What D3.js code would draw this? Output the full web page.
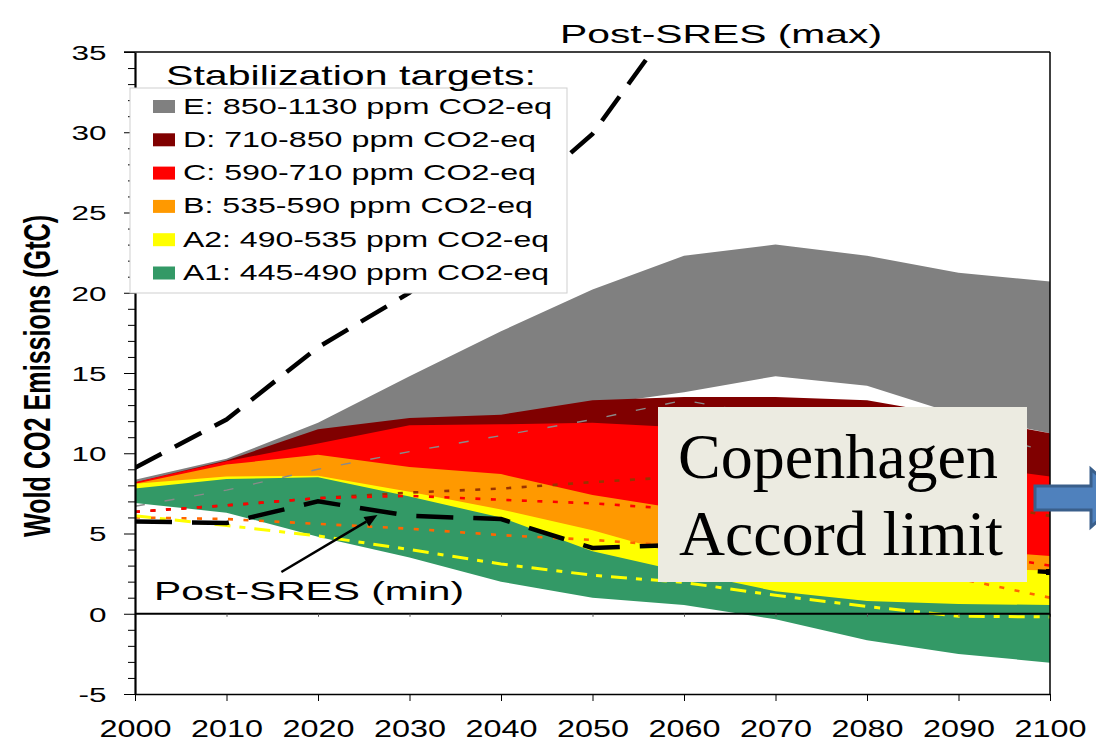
<!DOCTYPE html>
<html>
<head>
<meta charset="utf-8">
<script src="https://cdn.jsdelivr.net/npm/d3@7"></script>
<style>
  html, body { margin: 0; padding: 0; background: #fff; }
  svg { display: block; }
</style>
</head>
<body>
<svg id="chart" width="1096" height="750"></svg>
<script>
// ---- data -------------------------------------------------------------
const years = [2000, 2010, 2020, 2030, 2040, 2050, 2060, 2070, 2080, 2090, 2100];

// Stabilization category ranges (GtC): lower and upper edge of each band
const bandE_hi  = [8.35, 9.65, 11.9, 14.8, 17.6, 20.2, 22.3, 23.0, 22.3, 21.25, 20.7];
const bandE_lo  = [8.2, 9.5, 11.2, 12.0, 12.3, 13.0, 13.8, 14.8, 14.2, 12.4, 11.25];
const bandD_hi  = [8.2, 9.55, 11.5, 12.2, 12.4, 13.3, 13.5, 13.5, 13.3, 12.3, 11.25];
const bandD_lo  = [8.0, 9.2, 9.8, 9.1, 8.6, 7.4, 6.4, 5.2, 4.4, 3.9, 3.5];
const bandC_hi  = [8.2, 9.5, 10.6, 11.75, 11.8, 11.9, 11.6, 11.0, 10.2, 9.3, 8.55];
const bandC_lo  = [7.9, 8.5, 8.6, 7.5, 6.4, 5.1, 3.5, 3.2, 2.9, 2.7, 2.6];
const bandB_hi  = [8.1, 9.3, 9.9, 9.15, 8.7, 7.4, 6.5, 5.4, 4.6, 4.0, 3.6];
const bandB_lo  = [7.7, 8.3, 8.4, 7.2, 5.9, 3.8, 2.5, 1.4, 0.8, 0.6, 0.5];
const bandA2_hi = [8.1, 8.55, 8.6, 7.6, 6.5, 5.2, 3.6, 3.2, 2.9, 2.8, 2.7];
const bandA2_lo = [7.0, 6.5, 5.2, 4.0, 2.8, 1.8, 1.2, 0.6, 0.2, 0.0, -0.2];
const bandA1_hi = [7.8, 8.4, 8.5, 7.3, 6.0, 3.9, 2.6, 1.4, 0.8, 0.6, 0.55];
const bandA1_lo = [6.9, 6.3, 4.8, 3.5, 2.0, 1.0, 0.55, -0.35, -1.65, -2.5, -3.05];

// Scenario paths
const postSresMax   = [9.1, 12.1, 16.6, 20.0, 24.9, 29.9, 37.8];          // 2000-2060
const postSresMin   = [5.75, 5.65, 7.0, 6.1, 5.9, 4.1, 4.3, 3.8, 3.3, 2.9, 2.6];
const greyPath      = [6.7, 7.7, 9.0, 10.1, 11.1, 12.1, 13.3, 12.3, 12.0, 11.5, 10.1];
const brownPath     = [6.35, 6.75, 7.2, 7.55, 7.8, 8.2, 8.55, 8.4, 7.9, 7.1, 6.1];
const redPath       = [6.35, 6.75, 7.2, 7.35, 7.1, 6.88, 6.5, 5.6, 4.7, 3.9, 3.0];
const orangePath    = [6.0, 5.9, 5.6, 5.3, 4.9, 4.6, 4.2, 3.6, 2.9, 2.2, 1.0];
const yellowPath    = [6.1, 5.5, 4.85, 4.0, 3.1, 2.4, 1.95, 1.15, 0.45, -0.15, -0.2];

// Axis ticks and legend labels
const xTicks = [2000, 2010, 2020, 2030, 2040, 2050, 2060, 2070, 2080, 2090, 2100];
const yTicks = [-5, 0, 5, 10, 15, 20, 25, 30, 35];
const yMinorTicks = d3.range(-5, 36, 1).filter(v => v % 5 !== 0);
const bandKeys = ["E", "D", "C", "B", "A2", "A1"];
const legendLabels = [
  "E: 850-1130 ppm CO2-eq",
  "D: 710-850 ppm CO2-eq",
  "C: 590-710 ppm CO2-eq",
  "B: 535-590 ppm CO2-eq",
  "A2: 490-535 ppm CO2-eq",
  "A1: 445-490 ppm CO2-eq"
];

// ---- styles -------------------------------------------------------------
const bandFill = { E: "#808080", D: "#800000", C: "#ff0000", B: "#ff9900", A2: "#ffff00", A1: "#339966" };
const SANS = "'Liberation Sans', Arial, Helvetica, sans-serif";
const SERIF = "'Liberation Serif', 'Times New Roman', Times, serif";

// ---- layout -------------------------------------------------------------
const svg = d3.select("#chart");
const X0 = 135, X1 = 1050, Y0 = 52, Y1 = 694;
const x = d3.scaleLinear().domain([2000, 2100]).range([X0, X1]);
const y = d3.scaleLinear().domain([-5, 35]).range([Y1, Y0]);

svg.append("rect").attr("width", 1096).attr("height", 750).attr("fill", "#fff");

svg.append("clipPath").attr("id", "plotClip")
  .append("rect").attr("x", X0).attr("y", Y0).attr("width", X1 - X0).attr("height", Y1 - Y0);

const plot = svg.append("g").attr("clip-path", "url(#plotClip)");

// ---- bands (widest first, narrower targets on top) --------------------
const bands = [
  { key: "E", lo: bandE_lo, hi: bandE_hi },
  { key: "D", lo: bandD_lo, hi: bandD_hi },
  { key: "C", lo: bandC_lo, hi: bandC_hi },
  { key: "B", lo: bandB_lo, hi: bandB_hi },
  { key: "A2", lo: bandA2_lo, hi: bandA2_hi },
  { key: "A1", lo: bandA1_lo, hi: bandA1_hi }
];
const bandArea = b => d3.area()
  .x((d, i) => x(years[i]))
  .y0((d, i) => y(b.lo[i]))
  .y1((d, i) => y(b.hi[i]))(years);

plot.append("g").selectAll("path").data(bands).join("path")
  .attr("d", bandArea)
  .attr("fill", b => bandFill[b.key])
  .attr("stroke", "none");

// ---- scenario lines ------------------------------------------------------
const pathLine = vals => d3.line()
  .x((d, i) => x(years[i]))
  .y(d => y(d))(vals);

const lineSpecs = [
  { vals: greyPath,    color: "#8a8a8a", width: 1.4, dash: "10,20" },
  { vals: brownPath,   color: "#993300", width: 2.6, dash: "5,10.5" },
  { vals: redPath,     color: "#ff0000", width: 2.6, dash: "5,10.5" },
  { vals: orangePath,  color: "#ff6600", width: 2.6, dash: "5,10.5" },
  { vals: yellowPath,  color: "#ffff00", width: 3,   dash: "16,9,6,9" },
  { vals: postSresMin, color: "#000000", width: 4.5, dash: "37,20" },
  { vals: postSresMax, color: "#000000", width: 4.5, dash: "30,15" }
];
plot.append("g").selectAll("path").data(lineSpecs).join("path")
  .attr("d", s => pathLine(s.vals))
  .attr("fill", "none")
  .attr("stroke", s => s.color)
  .attr("stroke-width", s => s.width)
  .attr("stroke-dasharray", s => s.dash)
  .attr("stroke-linejoin", "miter");

// end marker of the lower scenario at 2100
plot.append("rect")
  .attr("x", x(2100) - 4).attr("y", y(postSresMin[10]) - 3)
  .attr("width", 4).attr("height", 6).attr("fill", "#000");

// ---- zero line -----------------------------------------------------------
svg.append("line")
  .attr("x1", X0).attr("x2", X1).attr("y1", y(0)).attr("y2", y(0))
  .attr("stroke", "#000").attr("stroke-width", 2);
svg.append("g")
  .attr("transform", `translate(0,${y(0)})`)
  .call(d3.axisBottom(x).tickValues(xTicks).tickSize(3).tickFormat(""))
  .call(g => g.select(".domain").remove())
  .call(g => g.selectAll("line").attr("stroke", "#555"));

// ---- frame -----------------------------------------------------------------
svg.append("line").attr("x1", 124).attr("x2", X1).attr("y1", Y0).attr("y2", Y0)
  .attr("stroke", "#000").attr("stroke-width", 1.5);
svg.append("line").attr("x1", X1).attr("x2", X1).attr("y1", Y0).attr("y2", Y1)
  .attr("stroke", "#000").attr("stroke-width", 1.5);

// ---- axes ------------------------------------------------------------------
const yLabelWidth = v => (String(v).length === 1 ? 17.5 : (v < 0 ? 28 : 35));

const yAxis = svg.append("g").attr("transform", `translate(${X0},0)`)
  .call(d3.axisLeft(y).tickValues(yTicks).tickSize(11).tickSizeOuter(0).tickFormat(d => String(d)));
yAxis.select(".domain").attr("stroke", "#000").attr("stroke-width", 2.2);
yAxis.selectAll(".tick line").attr("stroke", "#000").attr("stroke-width", 1);
yAxis.selectAll(".tick text")
  .attr("text-anchor", "start")
  .attr("x", d => -28.5 - yLabelWidth(d))
  .attr("dy", "0")
  .attr("y", 7.3)
  .attr("font-family", SANS)
  .attr("font-size", 20)
  .attr("fill", "#000")
  .attr("textLength", d => yLabelWidth(d))
  .attr("lengthAdjust", "spacingAndGlyphs");

svg.append("g").attr("transform", `translate(${X0},0)`)
  .call(d3.axisLeft(y).tickValues(yMinorTicks).tickSize(7).tickSizeOuter(0).tickFormat(""))
  .call(g => g.select(".domain").remove())
  .call(g => g.selectAll("line").attr("stroke", "#000"));

const xAxis = svg.append("g").attr("transform", `translate(0,${Y1})`)
  .call(d3.axisBottom(x).tickValues(xTicks).tickSize(7).tickSizeOuter(0).tickFormat(d => String(d)));
xAxis.select(".domain").attr("stroke", "#000").attr("stroke-width", 1.5);
xAxis.selectAll(".tick line").attr("stroke", "#000");
xAxis.selectAll(".tick text")
  .attr("text-anchor", "start")
  .attr("x", -36)
  .attr("y", 43)
  .attr("dy", "0")
  .attr("font-family", SANS)
  .attr("font-size", 23.5)
  .attr("fill", "#000")
  .attr("textLength", 72)
  .attr("lengthAdjust", "spacingAndGlyphs");

// y-axis title
svg.append("text")
  .attr("transform", "translate(50,376) scale(1.47,1) rotate(-90)")
  .attr("text-anchor", "middle")
  .attr("font-family", SANS)
  .attr("font-size", 25)
  .attr("font-weight", "bold")
  .attr("fill", "#000")
  .attr("textLength", 322)
  .attr("lengthAdjust", "spacingAndGlyphs")
  .text("Wold CO2 Emissions (GtC)");

// ---- legend -----------------------------------------------------------------
const label = (sel, txt, lx, ly, size, width, opts = {}) =>
  sel.append("text")
    .attr("x", lx).attr("y", ly)
    .attr("font-family", opts.family || SANS)
    .attr("font-size", size)
    .attr("font-weight", opts.weight || "normal")
    .attr("fill", opts.fill || "#000")
    .attr("textLength", width)
    .attr("lengthAdjust", "spacingAndGlyphs")
    .text(txt);

const legend = svg.append("g");
legend.append("rect")
  .attr("x", 130).attr("y", 88).attr("width", 437).attr("height", 205)
  .attr("fill", "#fff").attr("stroke", "#cfcfcf").attr("stroke-width", 1);
label(legend, "Stabilization targets:", 166, 85, 28, 370);

const legendWidths = [369, 353, 353, 350, 366, 366];
const rows = legend.selectAll("g.row").data(bandKeys).join("g")
  .attr("class", "row")
  .attr("transform", (d, i) => `translate(0,${106.5 + i * 33.3})`);
rows.append("rect")
  .attr("x", 153).attr("y", -6.5).attr("width", 22).attr("height", 13)
  .attr("fill", d => bandFill[d]);
rows.each(function (d, i) {
  label(d3.select(this), legendLabels[i], 183, 7, 22, legendWidths[i]);
});

// ---- annotations ---------------------------------------------------------------
label(svg, "Post-SRES (max)", 560, 43, 25, 322);
label(svg, "Post-SRES (min)", 154, 600, 25, 310);

// pointer to the lower scenario path
const tail = [x(2016.0), y(2.6)];
const tip = [x(2026.5), y(6.15)];
const ang = Math.atan2(tip[1] - tail[1], tip[0] - tail[0]);
const headLen = 13, headHalf = 5.5;
const base = [tip[0] - headLen * Math.cos(ang), tip[1] - headLen * Math.sin(ang)];
svg.append("line")
  .attr("x1", tail[0]).attr("y1", tail[1]).attr("x2", base[0]).attr("y2", base[1])
  .attr("stroke", "#000").attr("stroke-width", 2.5);
svg.append("polygon")
  .attr("points", [
    tip,
    [base[0] + headHalf * Math.sin(ang), base[1] - headHalf * Math.cos(ang)],
    [base[0] - headHalf * Math.sin(ang), base[1] + headHalf * Math.cos(ang)]
  ].map(p => p.join(",")).join(" "))
  .attr("fill", "#000");

// Copenhagen Accord call-out
const callout = svg.append("g");
callout.append("rect")
  .attr("x", 658).attr("y", 407).attr("width", 369).attr("height", 175)
  .attr("fill", "#ecebe1");
label(callout, "Copenhagen", 678, 478, 64, 320, { family: SERIF });
label(callout, "Accord limit", 679, 555, 64, 324, { family: SERIF });

// block arrow pointing off to the right
svg.append("polygon")
  .attr("points", "1035,486 1091,486 1091,469 1124,498 1091,527 1091,510 1035,510")
  .attr("fill", "#4f81bd")
  .attr("stroke", "#3a5f8b")
  .attr("stroke-width", 3)
  .attr("stroke-linejoin", "miter");
</script>
</body>
</html>
